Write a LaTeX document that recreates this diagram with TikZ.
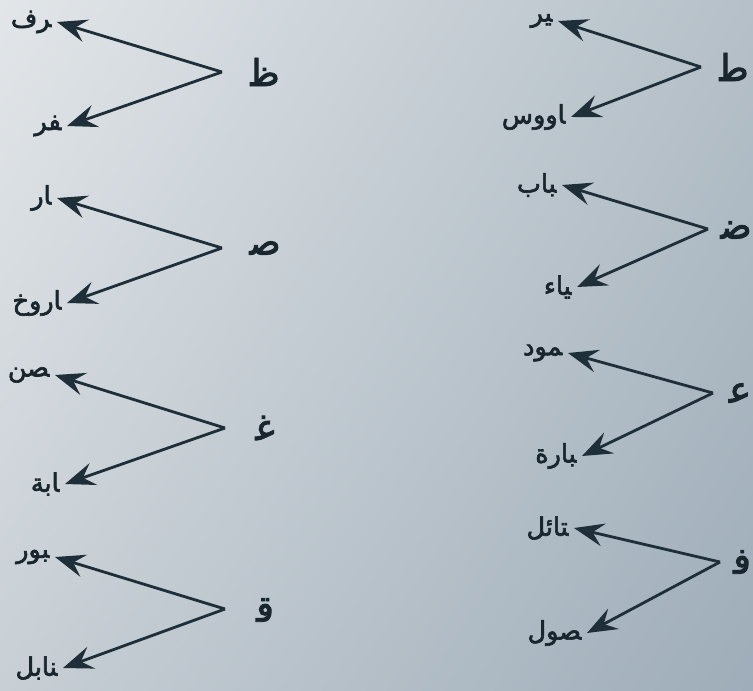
\documentclass[tikz,border=0pt]{standalone}
\usepackage{fontspec}
\newfontfamily\arabicfont[Script=Arabic,FakeBold=2.5]{DejaVu Sans}
\TeXXeTstate=1
\usetikzlibrary{arrows.meta,shadings}
\definecolor{ink}{HTML}{1A262E}
\definecolor{arrink}{HTML}{1F2F3A}
\definecolor{bgul}{RGB}{226,230,233}
\definecolor{bgur}{RGB}{181,192,200}
\definecolor{bgll}{RGB}{200,207,213}
\definecolor{bglr}{RGB}{158,173,185}
\newcommand{\tailword}[1]{\arabicfont\beginR ^^^^200d#1\endR}
\newcommand{\headletter}[1]{\arabicfont\beginR #1^^^^200d\endR}
\tikzset{
  wordnode/.style={font=\fontsize{14.5}{16}\selectfont, text=ink, inner ysep=0pt, inner xsep=3pt, anchor=east},
  headnode/.style={font=\fontsize{21}{24}\selectfont, text=ink, inner sep=0pt},
  arr/.style={draw=arrink, line width=1.6pt, -{Stealth[length=6mm, width=4.6mm, inset=2.2mm]}},
}
\begin{document}
\begin{tikzpicture}[x=0.02cm, y=-0.02cm]
\useasboundingbox (0,0) rectangle (753,690);
\shade[upper left=bgul, upper right=bgur, lower left=bgll, lower right=bglr]
  (0,0) rectangle (753,690);
% left column
\coordinate (v1) at (222,72);
\node[headnode] (h1) at (265,72) {\headletter{ظ}};
\node[wordnode] (a1) at (57,22) {\tailword{رف}};
\node[wordnode] (b1) at (67,126) {\tailword{فر}};
\coordinate (v2) at (222,248);
\node[headnode] (h2) at (265,248) {\headletter{ص}};
\node[wordnode] (a2) at (57,198) {\tailword{ار}};
\node[wordnode] (b2) at (67,303) {\tailword{اروخ}};
\coordinate (v3) at (225,428);
\node[headnode] (h3) at (265,428) {\headletter{غ}};
\node[wordnode] (a3) at (55,375) {\tailword{صن}};
\node[wordnode] (b3) at (65,484) {\tailword{ابة}};
\coordinate (v4) at (225,609);
\node[headnode] (h4) at (265,610) {\headletter{ق}};
\node[wordnode] (a4) at (55,557) {\tailword{بور}};
\node[wordnode] (b4) at (63,668) {\tailword{نابل}};
% right column
\coordinate (v5) at (701,67);
\node[headnode] (h5) at (734,67) {\headletter{ط}};
\node[wordnode] (a5) at (558,21) {\tailword{ير}};
\node[wordnode] (b5) at (571,117) {\tailword{اووس}};
\coordinate (v6) at (708,229);
\node[headnode] (h6) at (736,230) {\headletter{ض}};
\node[wordnode] (a6) at (562,185) {\tailword{باب}};
\node[wordnode] (b6) at (577,287) {\tailword{ياء}};
\coordinate (v7) at (713,393);
\node[headnode] (h7) at (740,393) {\headletter{ع}};
\node[wordnode] (a7) at (568,353) {\tailword{مود}};
\node[wordnode] (b7) at (582,456) {\tailword{بارة}};
\coordinate (v8) at (720,562);
\node[headnode] (h8) at (742,562) {\headletter{ف}};
\node[wordnode] (a8) at (574,528) {\tailword{تائل}};
\node[wordnode] (b8) at (587,633) {\tailword{صول}};
\foreach \i in {1,...,8}{
  \draw[arr] (v\i) -- (a\i.east);
  \draw[arr] (v\i) -- (b\i.east);
}
\end{tikzpicture}
\end{document}
